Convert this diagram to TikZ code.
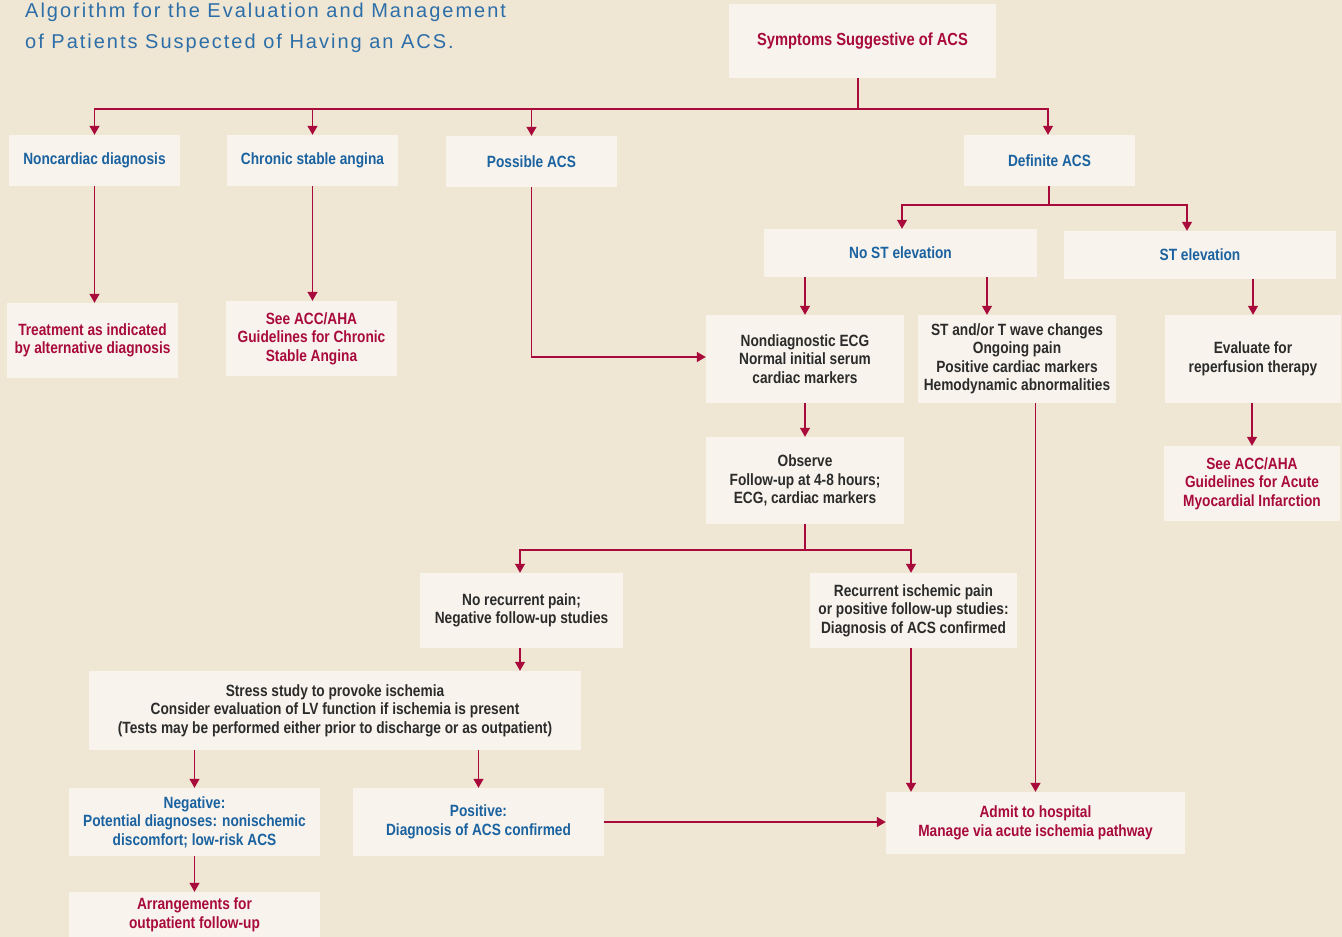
\documentclass[tikz,border=0pt]{standalone}
\usepackage{fontspec}
\setmainfont[FakeStretch=0.84,UprightFont={* Bold}]{Liberation Sans}
\newfontfamily\titlefont[LetterSpace=10]{Liberation Sans}
\usetikzlibrary{arrows.meta}
\definecolor{bg}{HTML}{F0E6D4}
\definecolor{boxfill}{HTML}{F8F3EC}
\definecolor{acsred}{HTML}{A80A3C}
\definecolor{acsblue}{HTML}{1A62A0}
\definecolor{acsdark}{HTML}{2B2B2B}
\definecolor{titleblue}{HTML}{2C6EA8}
\begin{document}
\begin{tikzpicture}[x=1pt,y=-1pt,
  box/.style={fill=boxfill,draw=none,inner sep=0pt,align=center,
    font=\fontsize{16.3}{18.5}\selectfont},
  rtext/.style={text=acsred},
  btext/.style={text=acsblue},
  dtext/.style={text=acsdark},
  line/.style={draw=acsred,line width=1.2pt},
  arr/.style={line,-{Triangle[width=10pt,length=9pt]}}]
\useasboundingbox[fill=bg] (0,0) rectangle (1342,937);

\node[anchor=base west,inner sep=0pt,text=titleblue,font=\titlefont\fontsize{20}{24}\selectfont] (t1) at (25,17) {Algorithm for the Evaluation and Management};
\node[anchor=base west,inner sep=0pt,text=titleblue,font=\titlefont\fontsize{20}{24}\selectfont] (t2) at (25,48) {of Patients Suspected of Having an ACS.};

\node[box,rtext,minimum width=267,minimum height=74,font=\fontsize{17.5}{20}\selectfont] (sym) at (862.5,41) {Symptoms Suggestive of ACS};

\node[box,btext,minimum width=171,minimum height=51] (nc) at (94.5,160.5) {Noncardiac diagnosis};
\node[box,btext,minimum width=171,minimum height=51] (cs) at (312.5,160.5) {Chronic stable angina};
\node[box,btext,minimum width=171,minimum height=51] (pos) at (531.5,161.5) {Possible ACS};
\node[box,btext,minimum width=171,minimum height=51] (def) at (1049.5,160.5) {Definite ACS};

\node[box,btext,minimum width=273,minimum height=48] (nost) at (900.5,253) {No ST elevation};
\node[box,btext,minimum width=272,minimum height=48] (stel) at (1200,255) {ST elevation};

\node[box,rtext,minimum width=171,minimum height=75] (treat) at (92.5,340.5) {Treatment as indicated\\by alternative diagnosis};
\node[box,rtext,minimum width=171,minimum height=75] (seec) at (311.5,338.5) {See ACC/AHA\\Guidelines for Chronic\\Stable Angina};

\node[box,dtext,minimum width=198,minimum height=88] (nond) at (805,359) {Nondiagnostic ECG\\Normal initial serum\\cardiac markers};
\node[box,dtext,minimum width=198,minimum height=88] (stt) at (1017,359) {ST and/or T wave changes\\Ongoing pain\\Positive cardiac markers\\Hemodynamic abnormalities};
\node[box,dtext,minimum width=176,minimum height=88] (eval) at (1253,359) {Evaluate for\\reperfusion therapy};
\node[box,rtext,minimum width=176,minimum height=75] (seeami) at (1252,483.5) {See ACC/AHA\\Guidelines for Acute\\Myocardial Infarction};

\node[box,dtext,minimum width=198,minimum height=87] (obs) at (805,480.5) {Observe\\Follow-up at 4-8 hours;\\ECG, cardiac markers};

\node[box,dtext,minimum width=203,minimum height=75] (norec) at (521.5,610.5) {No recurrent pain;\\Negative follow-up studies};
\node[box,dtext,minimum width=207,minimum height=75] (rec) at (913.5,610.5) {Recurrent ischemic pain\\or positive follow-up studies:\\Diagnosis of ACS confirmed};

\node[box,dtext,minimum width=492,minimum height=79] (stress) at (335,710.5) {Stress study to provoke ischemia\\Consider evaluation of LV function if ischemia is present\\(Tests may be performed either prior to discharge or as outpatient)};

\node[box,btext,minimum width=251,minimum height=68] (neg) at (194.5,822) {Negative:\\Potential diagnoses: nonischemic\\discomfort; low-risk ACS};
\node[box,btext,minimum width=251,minimum height=68] (posi) at (478.5,822) {Positive:\\Diagnosis of ACS confirmed};
\node[box,rtext,minimum width=299,minimum height=62] (admit) at (1035.5,823) {Admit to hospital\\Manage via acute ischemia pathway};
\node[box,rtext,minimum width=251,minimum height=46] (arrg) at (194.5,915) {Arrangements for\\outpatient follow-up};

% connectors
\coordinate (j1) at (858,109);
\draw[line] (sym.south -| j1) -- (j1);
\draw[arr] (j1) -| (nc.north);
\draw[arr] (j1) -| (cs.north);
\draw[arr] (j1) -| (pos.north);
\draw[arr] (j1) -| ([xshift=-1.5pt]def.north);

\draw[arr] (nc.south) -- (nc.south |- treat.north);
\draw[arr] (cs.south) -- (cs.south |- seec.north);
\draw[arr] (pos.south) |- ([yshift=2pt]nond.west);

\coordinate (j2) at (1049,205);
\draw[line] (def.south -| j2) -- (j2);
\draw[arr] (j2) -| ([xshift=1.5pt]nost.north);
\draw[arr] (j2) -| ([xshift=-13pt]stel.north);

\draw[arr] (nost.south -| nond.north) -- (nond.north);
\coordinate (a1) at ([xshift=-30pt]stt.north);
\draw[arr] (nost.south -| a1) -- (a1);
\draw[arr] (stel.south -| eval.north) -- (eval.north);
\draw[arr] (eval.south -| seeami.north) -- (seeami.north);

\draw[arr] (nond.south) -- (obs.north);
\coordinate (j3) at (805,550);
\draw[line] (obs.south) -- (j3);
\draw[arr] (j3) -| ([xshift=-1.5pt]norec.north);
\draw[arr] (j3) -| ([xshift=-2.5pt]rec.north);

\draw[arr] ([xshift=-1.5pt]norec.south) -- ([xshift=-1.5pt]norec.south |- stress.north);
\draw[arr] (stress.south -| neg.north) -- (neg.north);
\draw[arr] (stress.south -| posi.north) -- (posi.north);
\draw[arr] (neg.south) -- (arrg.north);
\draw[arr] (posi.east) -- (posi.east -| admit.west);

\coordinate (a2) at ([xshift=-2.5pt]rec.south);
\draw[arr] (a2) -- (a2 |- admit.north);
\draw[arr] (stt.south -| admit.north) -- (admit.north);
\end{tikzpicture}
\end{document}
